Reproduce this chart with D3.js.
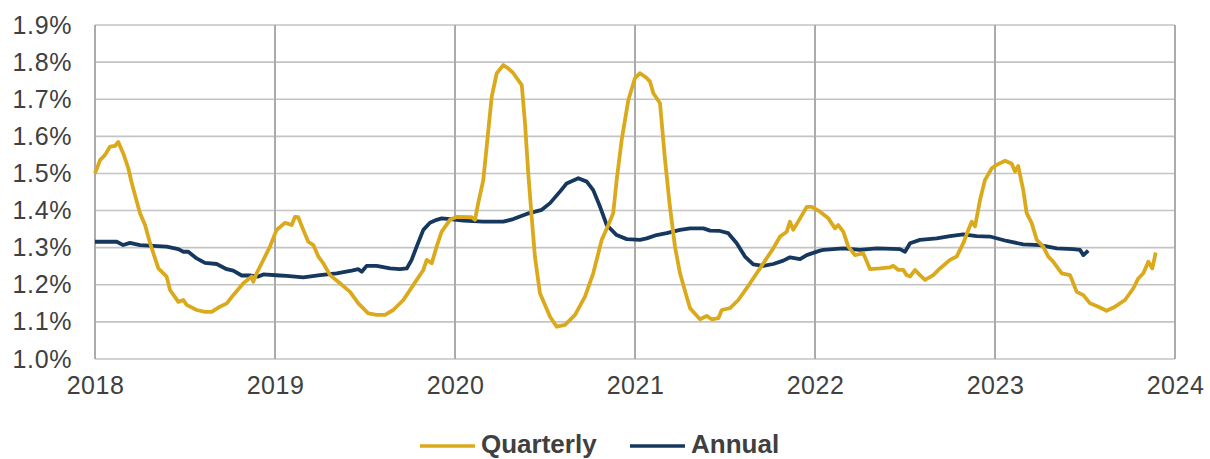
<!DOCTYPE html>
<html>
<head>
<meta charset="utf-8">
<script src="https://cdn.jsdelivr.net/npm/d3@7"></script>
<style>
  body { margin: 0; background: #fff; }
  svg { display: block; font-family: "Liberation Sans", Arial, sans-serif; }
</style>
</head>
<body>
<svg id="chart" width="1210" height="459"></svg>
<script>
// quarterly series: decimal year, percent
var qYear = [2018.000,2018.028,2018.056,2018.083,2018.111,2018.129,2018.157,2018.185,2018.204,2018.250,
  2018.278,2018.306,2018.352,2018.398,2018.417,2018.463,2018.491,2018.509,2018.565,2018.611,
  2018.648,2018.694,2018.732,2018.768,2018.824,2018.871,2018.879,2018.898,2018.926,2018.972,
  2019.009,2019.056,2019.093,2019.111,2019.129,2019.157,2019.185,2019.213,2019.241,2019.268,
  2019.306,2019.361,2019.417,2019.463,2019.518,2019.565,2019.611,2019.657,2019.713,2019.768,
  2019.824,2019.843,2019.871,2019.898,2019.926,2019.972,2020.009,2020.093,2020.111,2020.129,
  2020.157,2020.176,2020.204,2020.232,2020.268,2020.296,2020.324,2020.371,2020.389,2020.407,
  2020.426,2020.444,2020.472,2020.528,2020.565,2020.611,2020.667,2020.722,2020.768,2020.815,
  2020.852,2020.879,2020.898,2020.926,2020.963,2021.000,2021.028,2021.065,2021.083,2021.102,
  2021.139,2021.167,2021.194,2021.222,2021.250,2021.287,2021.306,2021.361,2021.398,2021.426,
  2021.463,2021.482,2021.528,2021.574,2021.639,2021.713,2021.768,2021.806,2021.843,2021.861,
  2021.879,2021.917,2021.954,2021.982,2022.028,2022.074,2022.111,2022.129,2022.157,2022.185,
  2022.222,2022.268,2022.306,2022.361,2022.417,2022.435,2022.463,2022.491,2022.509,2022.528,
  2022.556,2022.583,2022.611,2022.657,2022.694,2022.750,2022.787,2022.824,2022.852,2022.871,
  2022.889,2022.917,2022.944,2022.982,2023.009,2023.056,2023.093,2023.111,2023.129,2023.157,
  2023.176,2023.204,2023.232,2023.268,2023.296,2023.324,2023.371,2023.417,2023.454,2023.491,
  2023.528,2023.574,2023.620,2023.667,2023.722,2023.768,2023.796,2023.824,2023.852,2023.874,
  2023.893];
var qVal = [1.500,1.536,1.550,1.572,1.574,1.585,1.554,1.514,1.474,1.393,
  1.361,1.312,1.244,1.222,1.186,1.154,1.159,1.146,1.132,1.127,
  1.127,1.141,1.150,1.172,1.204,1.222,1.208,1.231,1.258,1.303,
  1.348,1.367,1.361,1.383,1.382,1.348,1.316,1.307,1.276,1.258,
  1.226,1.204,1.181,1.150,1.123,1.119,1.119,1.132,1.159,1.199,
  1.240,1.267,1.258,1.303,1.343,1.375,1.383,1.382,1.375,1.420,
  1.482,1.572,1.707,1.770,1.792,1.783,1.770,1.738,1.635,1.500,
  1.383,1.276,1.177,1.114,1.087,1.092,1.119,1.168,1.231,1.321,
  1.361,1.393,1.482,1.590,1.698,1.757,1.770,1.757,1.748,1.716,
  1.689,1.536,1.410,1.303,1.231,1.168,1.137,1.107,1.116,1.107,
  1.110,1.132,1.137,1.159,1.204,1.258,1.298,1.330,1.343,1.370,
  1.348,1.379,1.410,1.410,1.397,1.379,1.352,1.361,1.343,1.303,
  1.280,1.285,1.242,1.244,1.247,1.251,1.240,1.240,1.226,1.222,
  1.240,1.226,1.213,1.226,1.244,1.267,1.276,1.312,1.348,1.370,
  1.357,1.429,1.482,1.514,1.523,1.534,1.526,1.505,1.520,1.455,
  1.393,1.366,1.321,1.303,1.276,1.262,1.231,1.226,1.181,1.172,
  1.150,1.141,1.130,1.141,1.159,1.190,1.217,1.231,1.262,1.244,
  1.287];

// annual series
var aYear = [2018.000,2018.121,2018.157,2018.194,2018.250,2018.398,2018.463,2018.491,2018.518,2018.565,
  2018.611,2018.676,2018.732,2018.768,2018.815,2018.861,2018.907,2018.935,2019.028,2019.065,
  2019.157,2019.250,2019.343,2019.426,2019.463,2019.482,2019.509,2019.565,2019.639,2019.694,
  2019.732,2019.759,2019.787,2019.824,2019.861,2019.898,2019.926,2019.972,2020.046,2020.157,
  2020.268,2020.324,2020.398,2020.482,2020.528,2020.583,2020.620,2020.685,2020.732,2020.768,
  2020.806,2020.843,2020.898,2020.954,2021.028,2021.065,2021.120,2021.176,2021.250,2021.306,
  2021.380,2021.417,2021.472,2021.518,2021.565,2021.611,2021.657,2021.713,2021.768,2021.824,
  2021.861,2021.917,2021.954,2022.028,2022.046,2022.157,2022.250,2022.343,2022.472,2022.500,
  2022.528,2022.583,2022.676,2022.750,2022.824,2022.898,2022.972,2023.065,2023.157,2023.250,
  2023.343,2023.435,2023.472,2023.491,2023.518];
var aVal = [1.316,1.316,1.307,1.313,1.307,1.303,1.296,1.289,1.289,1.271,
  1.259,1.256,1.242,1.238,1.225,1.225,1.222,1.228,1.225,1.224,
  1.220,1.226,1.231,1.238,1.242,1.235,1.251,1.251,1.244,1.242,
  1.244,1.267,1.303,1.348,1.367,1.375,1.379,1.377,1.373,1.370,
  1.370,1.377,1.391,1.402,1.420,1.451,1.473,1.487,1.478,1.455,
  1.410,1.361,1.334,1.323,1.321,1.325,1.334,1.339,1.348,1.352,
  1.352,1.346,1.345,1.339,1.312,1.276,1.255,1.251,1.256,1.265,
  1.274,1.269,1.280,1.292,1.294,1.298,1.294,1.298,1.296,1.289,
  1.312,1.321,1.325,1.331,1.336,1.331,1.330,1.318,1.309,1.307,
  1.298,1.296,1.294,1.280,1.292];

var yTicks = [1.0,1.1,1.2,1.3,1.4,1.5,1.6,1.7,1.8,1.9];
var xTicks = [2018,2019,2020,2021,2022,2023,2024];
var seriesNames = ['Quarterly','Annual'];
var seriesCols = ['#DAAA1C','#16375E'];

var svg = d3.select('#chart');
var x = d3.scaleLinear().domain([2018, 2024]).range([95, 1175]);
var y = d3.scaleLinear().domain([1.0, 1.9]).range([359, 25]);

// horizontal grid
svg.append('g').selectAll('line').data(yTicks).enter().append('line')
  .attr('x1', x(2018)).attr('x2', x(2024))
  .attr('y1', function(d){ return y(d); }).attr('y2', function(d){ return y(d); })
  .attr('stroke', '#C4C4C4').attr('stroke-width', 1.6);

// vertical grid (year lines)
svg.append('g').selectAll('line').data(xTicks).enter().append('line')
  .attr('x1', function(d){ return x(d); }).attr('x2', function(d){ return x(d); })
  .attr('y1', y(1.9)).attr('y2', y(1.0))
  .attr('stroke', '#ABABAB').attr('stroke-width', 2);

// y axis labels
var yAxis = d3.axisLeft(y).tickValues(yTicks).tickSize(0).tickPadding(23)
  .tickFormat(function(d){ return d.toFixed(1) + '%'; });
var gy = svg.append('g').attr('transform', 'translate(95,0)').call(yAxis);
gy.select('.domain').remove();
gy.selectAll('text').attr('font-size', 25).attr('fill', '#404040')
  .attr('font-family', '"Liberation Sans", Arial, sans-serif').attr('letter-spacing', 0.6);

// x axis labels
var xAxis = d3.axisBottom(x).tickValues(xTicks).tickSize(0).tickPadding(17)
  .tickFormat(d3.format('d'));
var gx = svg.append('g').attr('transform', 'translate(0,359)').call(xAxis);
gx.select('.domain').remove();
gx.selectAll('text').attr('font-size', 25).attr('fill', '#404040')
  .attr('font-family', '"Liberation Sans", Arial, sans-serif').attr('letter-spacing', 0.5);

var line = d3.line()
  .x(function(d){ return x(d[0]); })
  .y(function(d){ return y(d[1]); });

var aData = aYear.map(function(t, i){ return [t, aVal[i]]; });
var qData = qYear.map(function(t, i){ return [t, qVal[i]]; });

svg.append('path').datum(aData).attr('d', line)
  .attr('fill', 'none').attr('stroke', seriesCols[1]).attr('stroke-width', 3.8)
  .attr('stroke-linejoin', 'round');
svg.append('path').datum(qData).attr('d', line)
  .attr('fill', 'none').attr('stroke', seriesCols[0]).attr('stroke-width', 3.8)
  .attr('stroke-linejoin', 'round');

// legend
var legX = [420, 630];
seriesNames.forEach(function(name, i){
  var g = svg.append('g').attr('transform', 'translate(' + legX[i] + ',0)');
  g.append('line').attr('x1', 0).attr('x2', 55).attr('y1', 446).attr('y2', 446)
    .attr('stroke', seriesCols[i]).attr('stroke-width', 3.5);
  g.append('text').attr('x', 61).attr('y', 453).text(name)
    .attr('font-size', 26).attr('font-weight', 'bold').attr('fill', '#404040');
});
</script>
</body>
</html>
